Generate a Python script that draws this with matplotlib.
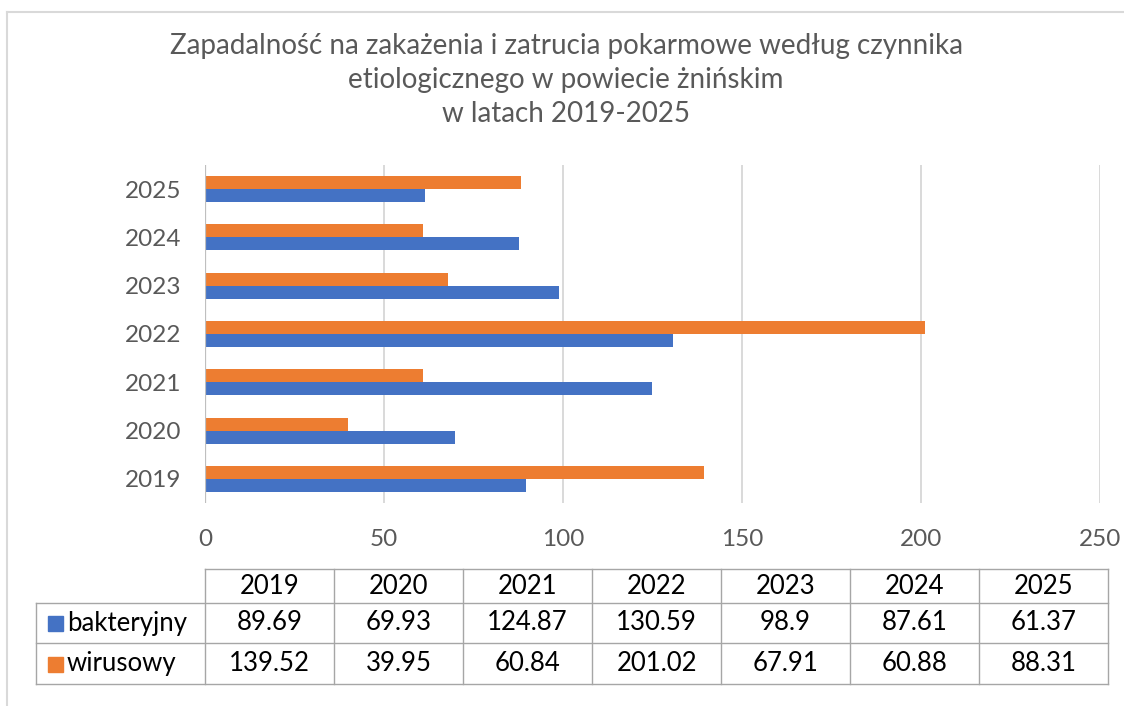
import numpy as np
import matplotlib
matplotlib.use("Agg")
import matplotlib.pyplot as plt

plt.rcParams["font.family"] = ["Lato", "DejaVu Sans"]

years = ["2019", "2020", "2021", "2022", "2023", "2024", "2025"]
series_names = ["bakteryjny", "wirusowy"]
bakteryjny = [89.69, 69.93, 124.87, 130.59, 98.9, 87.61, 61.37]
wirusowy = [139.52, 39.95, 60.84, 201.02, 67.91, 60.88, 88.31]
table_labels = ["89.69", "69.93", "124.87", "130.59", "98.9", "87.61", "61.37"]
table_labels_w = ["139.52", "39.95", "60.84", "201.02", "67.91", "60.88", "88.31"]
x_ticks = [0, 50, 100, 150, 200, 250]

BLUE = "#4472C4"
ORANGE = "#ED7D31"
GREY_TEXT = "#595959"
GRID = "#D9D9D9"
FS = 18.5

W, H = 1124, 706
fig = plt.figure(figsize=(W / 100, H / 100), dpi=100)


def box(x0, y0, x1, y1):
    # pixel box (top-left origin) -> figure fraction rect
    return [x0 / W, 1 - y1 / H, (x1 - x0) / W, (y1 - y0) / H]


# overlay in pixel coordinates for frame and data table
ov = fig.add_axes([0, 0, 1, 1])
ov.set_xlim(0, W)
ov.set_ylim(H, 0)
ov.axis("off")

ov.plot([7, 7], [12, H], color=GRID, lw=1.5)
ov.plot([7, W], [12, 12], color=GRID, lw=1.5)

fig.text(566 / W, 1 - 80 / H,
         "Zapadalność na zakażenia i zatrucia pokarmowe według czynnika\n"
         "etiologicznego w powiecie żnińskim\nw latach 2019-2025",
         ha="center", va="center", fontsize=20, color=GREY_TEXT,
         linespacing=1.38)

# bar chart
ax = fig.add_axes(box(205, 165, 1100, 503), zorder=2)
ax.patch.set_alpha(0)
y = np.arange(len(years))
h = 0.27
ax.barh(y - h / 2, bakteryjny, height=h, color=BLUE, zorder=3)
ax.barh(y + h / 2, wirusowy, height=h, color=ORANGE, zorder=3)
ax.set_xlim(0, 250)
ax.set_ylim(-0.5, len(years) - 0.5)
ax.set_xticks(x_ticks)
ax.set_yticks(y)
ax.set_yticklabels(years)
for s in ax.spines.values():
    s.set_visible(False)
ax.xaxis.grid(True, color=GRID, lw=1.4, zorder=0)
ax.axvline(0, color="#BFBFBF", lw=1.6, zorder=4)
ax.tick_params(length=0, labelsize=17.5, labelcolor=GREY_TEXT)
ax.tick_params(axis="x", pad=19)
ax.tick_params(axis="y", pad=17)

# data table
col_edges = np.linspace(205, 1108, len(years) + 1)
row_edges = [569, 603, 643, 684]
lc = "#A6A6A6"
ov.plot([205, 1108], [row_edges[0]] * 2, color=lc, lw=1)
for yy in row_edges[1:]:
    ov.plot([36, 1108], [yy, yy], color=lc, lw=1)
ov.plot([36, 36], [row_edges[1], row_edges[3]], color=lc, lw=1)
for xx in col_edges:
    ov.plot([xx, xx], [row_edges[0], row_edges[3]], color=lc, lw=1)

for i, yr in enumerate(years):
    cx = (col_edges[i] + col_edges[i + 1]) / 2
    ov.text(cx, (row_edges[0] + row_edges[1]) / 2, yr, ha="center",
            va="center", fontsize=FS, color="black")
    ov.text(cx, (row_edges[1] + row_edges[2]) / 2, table_labels[i],
            ha="center", va="center", fontsize=FS, color="black")
    ov.text(cx, (row_edges[2] + row_edges[3]) / 2, table_labels_w[i],
            ha="center", va="center", fontsize=FS, color="black")

for j, (name, col) in enumerate(zip(series_names, [BLUE, ORANGE])):
    cy = (row_edges[j + 1] + row_edges[j + 2]) / 2
    ov.add_patch(plt.Rectangle((48, cy - 7), 15, 15, color=col))
    ov.text(67, cy, name, ha="left", va="center", fontsize=FS,
            color="black")

fig.savefig("out.png", dpi=100)
